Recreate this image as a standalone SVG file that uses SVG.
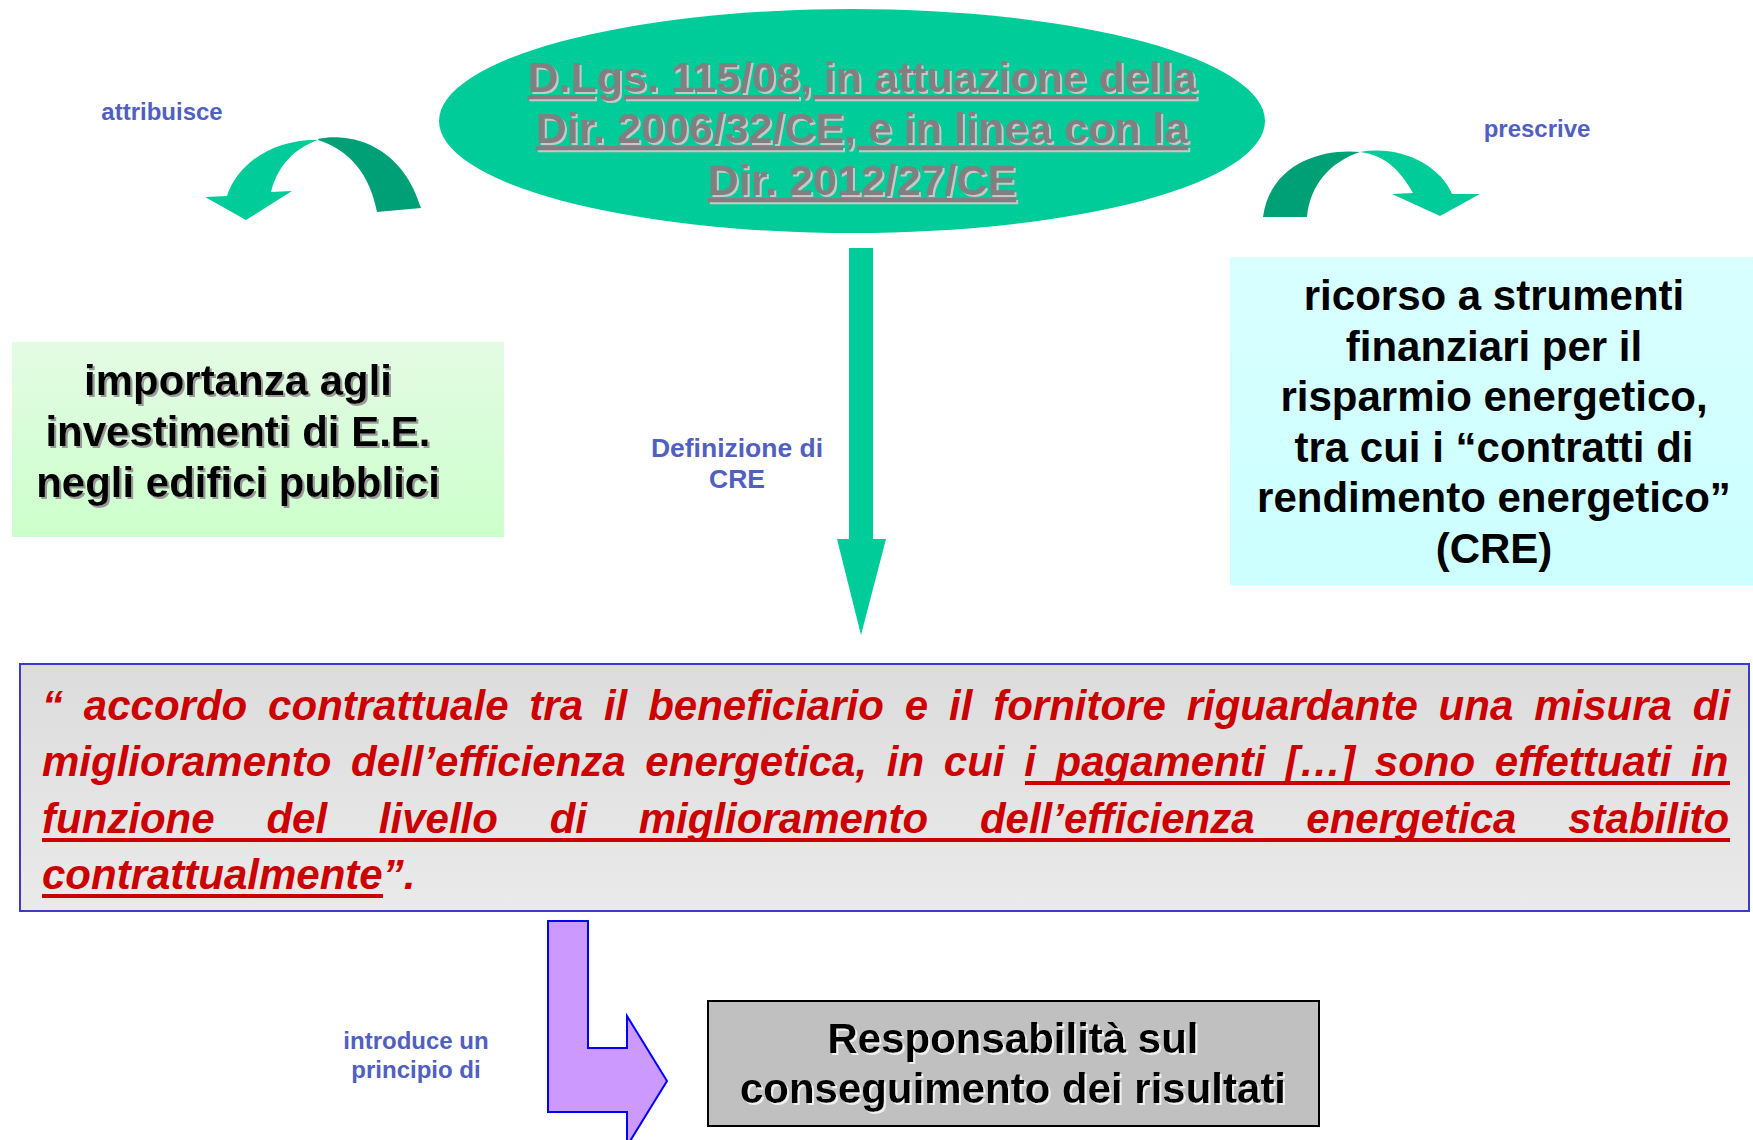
<svg xmlns="http://www.w3.org/2000/svg" width="1753" height="1140" viewBox="0 0 1753 1140">
<style>
.t{font-family:"Liberation Sans",Arial,sans-serif;font-weight:bold}
.big{font-size:42px;fill:#000;text-anchor:middle}
.lbl{font-size:24px;fill:#5060C0;text-anchor:middle}
.lbl2{font-size:26.5px;fill:#5060C0;text-anchor:middle}
.ell{font-size:43px;fill:#808080;text-anchor:middle;text-decoration:underline}
.q{font-size:42px;fill:#CC0000;font-style:italic}
.ul{fill:#CC0000}
.green{fill:#00CC99}
.dark{fill:#00A077}
</style>
<defs>
<linearGradient id="gGreen" x1="0" y1="0" x2="0" y2="1"><stop offset="0" stop-color="#E4FBE4"/><stop offset="1" stop-color="#CCFFCC"/></linearGradient>
<linearGradient id="gCyan" x1="0" y1="0" x2="0" y2="1"><stop offset="0" stop-color="#D9FFFF"/><stop offset="1" stop-color="#CCFFFF"/></linearGradient>
<linearGradient id="gGray" x1="0" y1="0" x2="0" y2="1"><stop offset="0" stop-color="#DCDCDC"/><stop offset="1" stop-color="#EAEAEA"/></linearGradient>
<filter id="shGray" x="-5%" y="-20%" width="110%" height="140%"><feDropShadow dx="2" dy="2" stdDeviation="0" flood-color="#C8C8C8"/></filter>
<filter id="shDark" x="-5%" y="-20%" width="110%" height="140%"><feDropShadow dx="2" dy="2" stdDeviation="0" flood-color="#9A9A9A"/></filter>
<filter id="shLight" x="-5%" y="-20%" width="110%" height="140%"><feDropShadow dx="2" dy="2" stdDeviation="0" flood-color="#F0F0F0"/></filter>
</defs>
<rect width="1753" height="1140" fill="#FFFFFF"/>

<g id="node-dlgs">
<ellipse cx="852" cy="121" rx="413" ry="112" class="green"/>
<g filter="url(#shGray)">
<text class="t ell" x="862" y="92">D.Lgs. 115/08, in attuazione della</text>
<text class="t ell" x="862" y="143">Dir. 2006/32/CE, e in linea con la</text>
<text class="t ell" x="862" y="195">Dir. 2012/27/CE</text>
</g>
</g>

<g id="node-importanza">
<rect x="12" y="342" width="492" height="195" fill="url(#gGreen)"/>
<g filter="url(#shDark)">
<text class="t big" x="238" y="395">importanza agli</text>
<text class="t big" x="238" y="446">investimenti di E.E.</text>
<text class="t big" x="238" y="497">negli edifici pubblici</text>
</g>
</g>

<g id="node-ricorso">
<rect x="1230" y="257" width="523" height="328" fill="url(#gCyan)"/>
<text class="t big" x="1494" y="310">ricorso a strumenti</text>
<text class="t big" x="1494" y="361">finanziari per il</text>
<text class="t big" x="1494" y="411">risparmio energetico,</text>
<text class="t big" x="1494" y="462">tra cui i “contratti di</text>
<text class="t big" x="1494" y="512">rendimento energetico”</text>
<text class="t big" x="1494" y="563">(CRE)</text>
</g>

<g id="node-definizione">
<rect x="20" y="664" width="1729" height="247" fill="url(#gGray)" stroke="#3A3ACC" stroke-width="2"/>
<text class="t q" x="42" y="720" word-spacing="9.2">“ accordo contrattuale tra il beneficiario e il fornitore riguardante una misura di</text>
<text class="t q" x="42" y="776" word-spacing="8">miglioramento dell’efficienza energetica, in cui i pagamenti […] sono effettuati in</text>
<text class="t q" x="42" y="833" word-spacing="40.1">funzione del livello di miglioramento dell’efficienza energetica stabilito</text>
<text class="t q" x="42" y="889">contrattualmente”.</text>
<rect class="ul" x="1025" y="781" width="705" height="4"/>
<rect class="ul" x="42" y="838" width="1688" height="4"/>
<rect class="ul" x="42" y="894" width="341" height="4"/>
</g>

<g id="node-responsabilita">
<rect x="708" y="1001" width="611" height="125" fill="#C0C0C0" stroke="#000000" stroke-width="2"/>
<g filter="url(#shLight)">
<text class="t big" x="1013" y="1053">Responsabilità sul</text>
<text class="t big" x="1013" y="1103">conseguimento dei risultati</text>
</g>
</g>

<g id="connectors">
<path class="dark" d="M318,139 C345,133 400,140 421,208 L377,212 C370,175 350,150 318,140 Z"/>
<path class="green" d="M318,140 C275,139 238,162 227,196 L205,197 L246,220 L292,191 L271,192 C278,165 295,148 318,140 Z"/>
<path class="dark" d="M1360,152 C1320,148 1270,165 1263,217 L1307,217 C1310,185 1330,162 1360,152 Z"/>
<path class="green" d="M1360,152 C1400,145 1440,165 1452,194 L1480,194 L1440,216 L1392,194 L1413,193 C1400,170 1385,155 1360,152 Z"/>
<path class="green" d="M849,248 L873,248 L873,539 L886,539 L861,635 L837,539 L849,539 Z"/>
<path d="M548,921 L588,921 L588,1048 L627,1048 L627,1016 L667,1081 L627,1146 L627,1112 L548,1112 Z" fill="#CC99FF" stroke="#0000FF" stroke-width="2"/>
<text class="t lbl" x="162" y="120">attribuisce</text>
<text class="t lbl" x="1537" y="137">prescrive</text>
<text class="t lbl2" x="737" y="457">Definizione di</text>
<text class="t lbl2" x="737" y="488">CRE</text>
<text class="t lbl" x="416" y="1049">introduce un</text>
<text class="t lbl" x="416" y="1078">principio di</text>
</g>
</svg>
